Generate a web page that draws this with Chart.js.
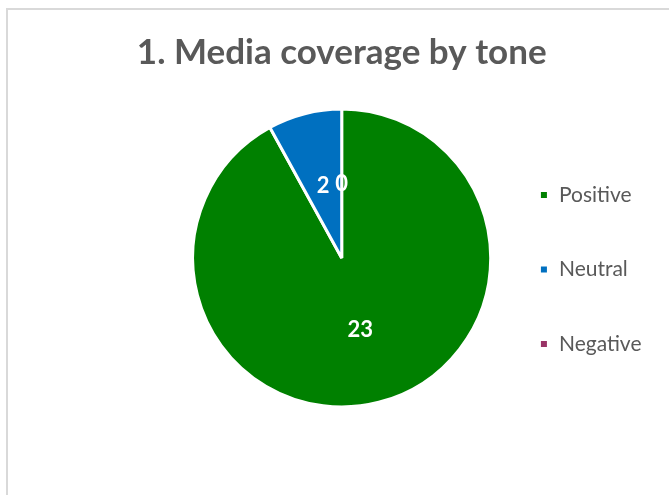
<!DOCTYPE html>
<html>
<head>
<meta charset="utf-8">
<script src="https://cdn.jsdelivr.net/npm/chart.js@4.4.1/dist/chart.umd.min.js"></script>
<style>
  html, body { margin: 0; padding: 0; background: #fff; overflow: hidden; }
  #frame { position: absolute; left: 6px; top: 8px; width: 720px; height: 540px; border: 2px solid #d9d9d9; box-sizing: border-box; }
  #chart { position: absolute; left: 0; top: 0; }
</style>
</head>
<body>
<div id="frame"></div>
<canvas id="chart" width="669" height="495"></canvas>
<script>
const categories = ['Positive', 'Neutral', 'Negative'];
const counts = [23, 2, 0];
const sliceColors = ['#008000', '#0070c0', '#993366'];
const chartTitle = '1. Media coverage by tone';

// title centred over the pie (the built-in one centres over pie + legend)
const pieTitle = {
  id: 'pieTitle',
  afterDraw(chart) {
    const ctx = chart.ctx;
    const area = chart.chartArea;
    ctx.save();
    ctx.fillStyle = '#595959';
    ctx.font = 'bold 35px Lato';
    ctx.textAlign = 'center';
    ctx.textBaseline = 'alphabetic';
    ctx.fillText(chartTitle, (area.left + area.right) / 2, 64);
    ctx.restore();
  }
};

// white value labels at the middle of each slice
const valueLabels = {
  id: 'valueLabels',
  afterDatasetsDraw(chart) {
    const ctx = chart.ctx;
    const meta = chart.getDatasetMeta(0);
    ctx.save();
    ctx.fillStyle = '#ffffff';
    ctx.font = 'bold 22px Lato';
    ctx.textAlign = 'center';
    ctx.textBaseline = 'middle';
    meta.data.forEach((arc, i) => {
      const p = arc.tooltipPosition();
      ctx.fillText(String(counts[i]), p.x, p.y);
    });
    ctx.restore();
  }
};

new Chart(document.getElementById('chart'), {
  type: 'pie',
  data: {
    labels: categories,
    datasets: [{
      data: counts,
      backgroundColor: sliceColors,
      borderColor: '#ffffff',
      borderWidth: 3,
      radius: 149
    }]
  },
  options: {
    responsive: false,
    animation: false,
    layout: {
      padding: { top: 90, bottom: 69, left: 197.5, right: 17.5 }
    },
    plugins: {
      title: { display: false },
      legend: {
        position: 'right',
        fullSize: false,
        title: { display: true, text: ' ', padding: 0, font: { size: 23, lineHeight: 1 } },
        labels: {
          color: '#595959',
          font: { family: 'Lato', size: 21 },
          boxWidth: 9,
          boxHeight: 9,
          padding: 53.5
        }
      },
      tooltip: { enabled: false }
    }
  },
  plugins: [valueLabels, pieTitle]
});
</script>
</body>
</html>
